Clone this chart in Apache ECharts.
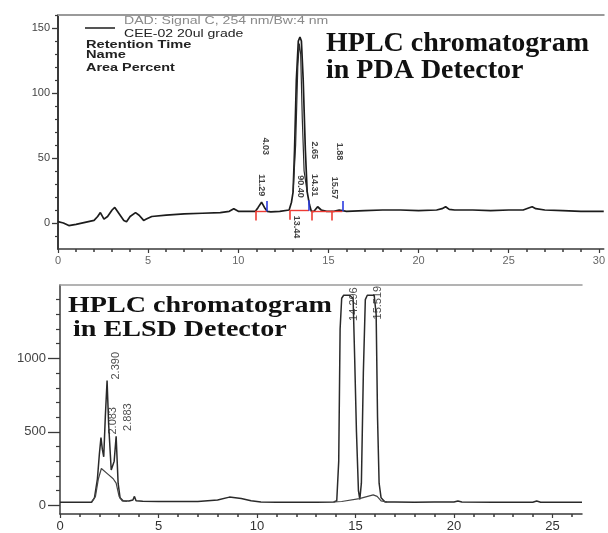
<!DOCTYPE html>
<html><head><meta charset="utf-8">
<script src="https://cdn.jsdelivr.net/npm/echarts@6/dist/echarts.min.js"></script>
<style>html,body{margin:0;padding:0;background:#fff}#c{width:608px;height:533px}</style>
</head><body><div id="c"></div>
<script>
// ---------- PDA (top) ----------
const pdaTime = [0, 0.3, 0.6, 1.0, 1.5, 2.0, 2.2, 2.35, 2.55, 2.75, 3.0, 3.15, 3.4, 3.65, 3.8, 4.0, 4.3, 4.5, 4.75, 4.9, 5.2, 6, 7, 8, 9, 9.5, 9.75, 10.0, 10.5, 10.95, 11.1, 11.29, 11.45, 11.6, 11.8, 12.3, 12.82, 12.95, 13.04, 13.12, 13.22, 13.33, 13.42, 13.5, 13.6, 13.72, 13.82, 13.95, 14.05, 14.2, 14.4, 14.6, 14.9, 15.3, 15.6, 16, 17, 18, 19, 20, 21, 21.3, 21.5, 21.7, 22, 23, 24, 25, 25.8, 26.1, 26.3, 26.5, 27, 28, 29, 30.27];
const pdaSignal = [1, 0, -2, -1, 0.5, 2, 5, 8, 3, 5, 10, 12, 7, 2, 1, 5, 8, 6, 2, 3, 5, 6, 7, 7.5, 8, 9, 11, 9, 9, 9, 12, 16, 12, 9, 8.5, 9, 10, 16, 24, 56, 110, 140, 143, 140, 110, 56, 24, 14, 9, 9, 12.5, 10, 9, 9, 10, 9, 9.5, 10, 10, 9.5, 10, 11, 12.5, 10.5, 10, 10, 9.5, 10, 10, 11.5, 12.5, 11, 10, 9.5, 9, 9];
const pdaTime2 = [13.04, 13.18, 13.3, 13.38, 13.46, 13.55, 13.65, 13.82];
const pdaSignal2 = [24, 60, 120, 138, 130, 80, 40, 24];
const pdaRedTicks = [10.95, 12.88, 14.09, 15.19];
const pdaBlueTicks = [11.56, 13.92, 15.77];
const pdaBaseStart = [10.95, 12.88, 14.09];
const pdaBaseEnd = [11.56, 13.92, 15.77];
const pdaBaseLevel = [9, 9.5, 9];
const pdaRtLabels = ['11.29', '13.44', '14.31', '15.57'];
const pdaRtLabelX = [11.3, 13.2, 14.2, 15.35];
const pdaRtLabelY = [29, -3, 29, 27];
const pdaAreaLabels = ['4.03', '90.40', '2.65', '1.88'];
const pdaAreaLabelX = [11.5, 13.43, 14.2, 15.63];
const pdaAreaLabelY = [59, 28, 56, 55];
const pdaXTicks = [0, 5, 10, 15, 20, 25, 30];
const pdaYTicks = [0, 50, 100, 150];

// ---------- ELSD (bottom) ----------
const elsdTime = [0, 1.6, 1.75, 1.9, 2.0, 2.08, 2.15, 2.22, 2.3, 2.39, 2.47, 2.6, 2.75, 2.85, 2.9, 2.95, 3.05, 3.2, 3.5, 3.7, 3.78, 3.86, 4.2, 5, 6, 7, 7.5, 8, 8.6, 9.2, 9.7, 10.2, 11, 12, 13, 13.9, 14.05, 14.15, 14.22, 14.3, 14.4, 14.7, 14.88, 14.96, 15.05, 15.15, 15.22, 15.3, 15.4, 15.5, 15.6, 15.95, 16.05, 16.12, 16.2, 16.3, 16.5, 17, 18, 19, 20, 20.2, 20.4, 22, 24, 24.2, 24.4, 26.5];
const elsdSignal = [20, 20, 50, 180, 350, 460, 380, 330, 600, 850, 550, 240, 300, 470, 460, 150, 50, 30, 28, 35, 60, 30, 27, 25, 25, 25, 30, 35, 55, 45, 30, 22, 20, 20, 20, 22, 30, 300, 1200, 1410, 1430, 1430, 1410, 1000, 500, 100, 40, 150, 900, 1400, 1430, 1430, 1300, 600, 150, 50, 22, 22, 20, 22, 22, 28, 22, 20, 20, 28, 20, 20];
const elsdTime2 = [1.6, 1.8, 1.95, 2.1, 2.4, 2.7, 2.85, 3.0, 3.15, 3.4];
const elsdSignal2 = [20, 60, 180, 250, 215, 180, 150, 60, 30, 25];
const elsdTime3 = [13.9, 14.3, 15.2, 15.9, 16.1, 16.3, 16.6];
const elsdSignal3 = [22, 25, 45, 70, 60, 30, 22];
const elsdLabels = ['2.390', '2.083', '2.883', '14.296', '15.519'];
const elsdLabelX = [2.85, 2.7, 3.45, 14.9, 16.15];
const elsdLabelY = [950, 575, 600, 1370, 1380];
const elsdXTicks = [0, 5, 10, 15, 20, 25];
const elsdYTicks = [0, 500, 1000];

// ---------- helpers ----------
const FONT = "'Liberation Sans', Arial, sans-serif";
const SERIF = "'Liberation Serif', 'Times New Roman', serif";
const pairs = (xs, ys) => xs.map((x, i) => [x, ys[i]]);
const minorsBetween = (lo, hi, step, majors) => {
  const out = [];
  for (let v = lo; v <= hi + 1e-9; v += step) {
    const r = Math.round(v * 1000) / 1000;
    if (!majors.includes(r)) out.push(r);
  }
  return out;
};
const AX = '#3a3a3a';

const markData = [];
pdaRedTicks.forEach((t, i) => {
  const lvl = pdaBaseLevel[Math.min(i, pdaBaseLevel.length - 1)];
  markData.push([{ coord: [t, lvl - 7], lineStyle: { color: '#ee3b33', width: 1.6, type: 'solid' } }, { coord: [t, lvl + 0.5] }]);
});
pdaBaseStart.forEach((s, i) => {
  markData.push([{ coord: [s, pdaBaseLevel[i]], lineStyle: { color: '#ee3b33', width: 1.4, type: 'solid' } }, { coord: [pdaBaseEnd[i], pdaBaseLevel[i]] }]);
});
pdaBlueTicks.forEach((t, i) => {
  markData.push([{ coord: [t, pdaBaseLevel[i]], lineStyle: { color: '#2b3be0', width: 1.6, type: 'solid' } }, { coord: [t, pdaBaseLevel[i] + 8] }]);
});

const pdaLabelData = pdaRtLabels.map((s, i) => [pdaRtLabelX[i], pdaRtLabelY[i], s])
  .concat(pdaAreaLabels.map((s, i) => [pdaAreaLabelX[i], pdaAreaLabelY[i], s]));
const elsdLabelData = elsdLabels.map((s, i) => [elsdLabelX[i], elsdLabelY[i], s]);

const hidden = { show: false };
function xMain(grid, min, max, majors, fs, color, margin) {
  return {
    type: 'value', gridIndex: grid, min, max, position: 'bottom',
    axisLine: { show: true, onZero: false, lineStyle: { color: AX, width: 1.5 } },
    axisTick: { show: true, length: 4, customValues: majors, lineStyle: { color: AX, width: 1.2 } },
    axisLabel: { show: true, customValues: majors, fontSize: fs, color, fontFamily: FONT, margin, formatter: v => String(v) },
    splitLine: hidden
  };
}
function xMinor(grid, min, max, minors) {
  return {
    type: 'value', gridIndex: grid, min, max, position: 'bottom',
    axisLine: { show: false, onZero: false },
    axisTick: { show: true, length: 3, customValues: minors, lineStyle: { color: AX, width: 1.5 } },
    axisLabel: hidden, splitLine: hidden
  };
}
function xTop(grid, min, max, w) {
  return {
    type: 'value', gridIndex: grid, min, max, position: 'top',
    axisLine: { show: true, onZero: false, lineStyle: { color: '#9a9a9a', width: w } },
    axisTick: hidden, axisLabel: hidden, splitLine: hidden
  };
}
function yMain(grid, min, max, majors, len, fs, margin, w) {
  return {
    type: 'value', gridIndex: grid, min, max, position: 'left',
    axisLine: { show: true, onZero: false, lineStyle: { color: AX, width: w } },
    axisTick: { show: true, length: len, customValues: majors, lineStyle: { color: AX, width: 1.3 } },
    axisLabel: { show: true, customValues: majors, fontSize: fs, color: '#444', fontFamily: FONT, margin, formatter: v => String(v) },
    splitLine: hidden
  };
}
function yMinor(grid, min, max, minors, len) {
  return {
    type: 'value', gridIndex: grid, min, max, position: 'left',
    axisLine: { show: false, onZero: false },
    axisTick: { show: true, length: len, customValues: minors, lineStyle: { color: AX, width: 1.2 } },
    axisLabel: hidden, splitLine: hidden
  };
}

const chart = echarts.init(document.getElementById('c'), null, { renderer: 'canvas' });
chart.setOption({
  animation: false,
  backgroundColor: '#fff',
  grid: [
    { left: 58, top: 15, width: 550, height: 234 },
    { left: 60, top: 285, width: 522, height: 231 }
  ],
  xAxis: [
    xMain(0, 0, 30.27, pdaXTicks, 11, '#666', 6),
    xMinor(0, 0, 30.27, minorsBetween(0, 30, 1, pdaXTicks)),
    xTop(0, 0, 30.27, 2),
    xMain(1, 0, 26.5, elsdXTicks, 13, '#333', 6),
    xMinor(1, 0, 26.5, minorsBetween(0, 26, 1, elsdXTicks)),
    xTop(1, 0, 26.5, 1.5)
  ],
  yAxis: [
    yMain(0, -20, 160, pdaYTicks, 6, 11, 8, 2),
    yMinor(0, -20, 160, minorsBetween(-10, 160, 10, pdaYTicks), 3),
    yMain(1, -60, 1500, elsdYTicks, 12, 13, 14, 1.5),
    yMinor(1, -60, 1500, minorsBetween(100, 1400, 100, elsdYTicks), 4)
  ],
  series: [
    {
      type: 'line', xAxisIndex: 0, yAxisIndex: 0, data: pairs(pdaTime, pdaSignal),
      showSymbol: false, symbol: 'none', lineStyle: { color: '#1c1c1c', width: 1.7 }, z: 3,
      markLine: { symbol: ['none', 'none'], silent: true, label: { show: false }, data: markData }
    },
    {
      type: 'line', xAxisIndex: 0, yAxisIndex: 0, data: pairs(pdaTime2, pdaSignal2),
      showSymbol: false, symbol: 'none', lineStyle: { color: '#2a2a2a', width: 1.2 }
    },
    {
      type: 'scatter', xAxisIndex: 0, yAxisIndex: 0, symbolSize: 0, data: pdaLabelData, z: 5,
      label: { show: true, position: 'inside', rotate: -90, formatter: p => p.value[2], fontSize: 9, fontWeight: 'bold', color: '#111', fontFamily: FONT }
    },
    {
      type: 'line', xAxisIndex: 3, yAxisIndex: 2, data: pairs(elsdTime, elsdSignal),
      showSymbol: false, symbol: 'none', lineStyle: { color: '#2a2a2a', width: 1.5 }
    },
    {
      type: 'line', xAxisIndex: 3, yAxisIndex: 2, data: pairs(elsdTime2, elsdSignal2),
      showSymbol: false, symbol: 'none', lineStyle: { color: '#444', width: 1.2 }
    },
    {
      type: 'line', xAxisIndex: 3, yAxisIndex: 2, data: pairs(elsdTime3, elsdSignal3),
      showSymbol: false, symbol: 'none', lineStyle: { color: '#444', width: 1.2 }
    },
    {
      type: 'scatter', xAxisIndex: 3, yAxisIndex: 2, symbolSize: 0, data: elsdLabelData, z: 5,
      label: { show: true, position: 'inside', rotate: 90, formatter: p => p.value[2], fontSize: 11, color: '#222', fontFamily: FONT }
    }
  ],
  graphic: [
    { type: 'line', shape: { x1: 85, y1: 28, x2: 115, y2: 28 }, style: { stroke: '#555', lineWidth: 2 } },
    { type: 'text', x: 124, y: 21, scaleX: 1.28, style: { text: 'DAD: Signal C, 254 nm/Bw:4 nm', font: '11px ' + FONT, fill: '#8a8a8a', verticalAlign: 'middle' } },
    { type: 'text', x: 124, y: 34, scaleX: 1.22, style: { text: 'CEE-02 20ul grade', font: '11.5px ' + FONT, fill: '#222', verticalAlign: 'middle' } },
    { type: 'text', x: 86, y: 44.5, scaleX: 1.33, style: { text: 'Retention Time', font: 'bold 11px ' + FONT, fill: '#222', verticalAlign: 'middle' } },
    { type: 'text', x: 86, y: 55, scaleX: 1.33, style: { text: 'Name', font: 'bold 11px ' + FONT, fill: '#222', verticalAlign: 'middle' } },
    { type: 'text', x: 86, y: 68, scaleX: 1.31, style: { text: 'Area Percent', font: 'bold 11px ' + FONT, fill: '#222', verticalAlign: 'middle' } },
    { type: 'text', x: 326, y: 44, style: { text: 'HPLC chromatogram', font: 'bold 28px ' + SERIF, fill: '#111', verticalAlign: 'middle' } },
    { type: 'text', x: 326, y: 71, style: { text: 'in PDA Detector', font: 'bold 28px ' + SERIF, fill: '#111', verticalAlign: 'middle' } },
    { type: 'text', x: 68, y: 306, scaleX: 1.17, style: { text: 'HPLC chromatogram', font: 'bold 24px ' + SERIF, fill: '#111', verticalAlign: 'middle' } },
    { type: 'text', x: 73, y: 330, scaleX: 1.17, style: { text: 'in ELSD Detector', font: 'bold 24px ' + SERIF, fill: '#111', verticalAlign: 'middle' } }
  ]
});
</script>
</body></html>
